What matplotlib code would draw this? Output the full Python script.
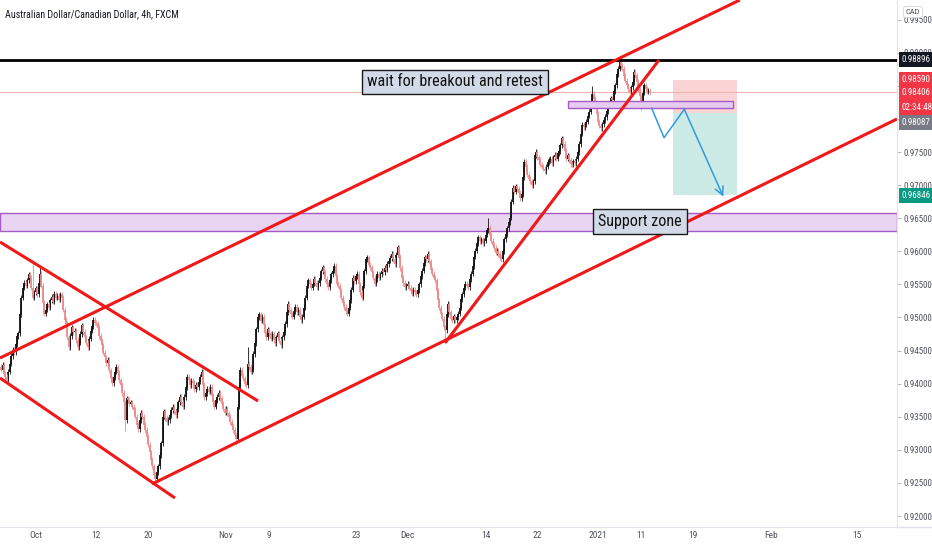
import numpy as np
import matplotlib.pyplot as plt
from matplotlib import font_manager
from matplotlib.patches import Rectangle

# narrow font if one is installed, else Liberation Sans at a smaller size
names = {f.name for f in font_manager.fontManager.ttflist}
narrow = next((n for n in ['Liberation Sans Narrow', 'Roboto Condensed', 'Noto Sans Condensed',
                           'DejaVu Sans Condensed', 'Open Sans Condensed'] if n in names), None)
if narrow is None:
    narrow = next((f.name for f in font_manager.fontManager.ttflist
                   if ('Condensed' in f.name or 'Narrow' in f.name) and f.style == 'normal'), None)
scale = 1.0 if narrow else 0.82
plt.rcParams['font.family'] = [narrow or 'Liberation Sans', 'DejaVu Sans']

# AUD/CAD 4h closes, in pips above 0.9000
closes_sep = [421, 428, 415, 410, 406, 418, 430, 442, 451, 448, 460, 472, 476, 505, 530, 545,
              552, 548, 556, 565, 560, 545, 530, 538]
closes_oct = [544, 535, 552, 566, 548, 522, 506, 512, 520, 515, 526, 531, 524, 536, 530, 533,
              527, 535, 530, 512, 496, 490, 470, 455, 472, 485, 478, 480, 466, 455, 462, 475,
              488, 478, 470, 462, 455, 468, 480, 487, 496, 492, 491, 484, 472, 465, 458, 447,
              440, 431, 436, 420, 408, 401, 410, 418, 425, 416, 405, 398, 386, 372, 345, 378,
              376, 370, 372, 365, 360, 350, 338, 331, 345, 356, 350, 338, 330, 320, 308, 296,
              285, 275, 262, 256, 266, 275, 292, 310, 350, 358, 348, 342, 345, 352, 360, 365,
              358, 352, 361, 372, 380, 372, 365, 380, 395, 410, 405, 398, 404, 401, 392, 398,
              395, 403, 410, 418, 398, 380, 386, 392, 388, 395, 382, 372, 365, 375, 380, 386,
              378, 370, 362, 356]
closes_nov = [362, 355, 350, 342, 336, 330, 322, 316, 365, 395, 421, 412, 408, 400, 398, 430,
              425, 418, 421, 445, 461, 482, 500, 505, 495, 501, 488, 476, 470, 482, 476, 468,
              475, 466, 461, 470, 476, 465, 458, 470, 478, 490, 508, 521, 512, 505, 501, 510,
              516, 508, 512, 501, 496, 501, 515, 530, 548, 556, 550, 545, 551, 558, 552, 546,
              552, 560, 570, 576, 568, 558, 550, 546, 556, 565, 571, 578, 562, 551, 548, 541,
              530, 522, 516, 510, 506, 515, 526, 542, 560, 555, 562, 566, 550, 538, 530, 548,
              570, 588, 591, 580, 576, 568, 560, 551, 558, 566, 560, 565, 571, 568, 575, 572,
              581, 586, 590, 596, 588, 581, 595, 606, 592, 575, 560, 552, 546, 548]
closes_dec = [551, 545, 540, 536, 542, 538, 535, 541, 550, 562, 571, 582, 591, 588, 596, 585,
              572, 566, 560, 556, 540, 526, 515, 505, 498, 485, 481, 505, 521, 508, 498, 496,
              502, 496, 500, 506, 515, 528, 535, 545, 551, 548, 546, 558, 566, 578, 592, 601,
              612, 621, 615, 618, 612, 616, 625, 632, 636, 625, 616, 610, 605, 598, 601, 596,
              590, 588, 600, 618, 626, 635, 644, 651, 675, 696, 690, 698, 694, 688, 680, 686,
              712, 735, 728, 716, 710, 706, 700, 706, 745, 750, 742, 738, 731, 728, 725, 721,
              728, 735, 738, 740, 733, 742, 746, 740, 748, 751, 760, 771, 762, 752, 740, 745,
              738, 732, 731, 736, 733, 740, 750, 762, 778, 791, 788, 792, 796, 805, 811, 825,
              838, 830, 821, 808]
closes_jan = [796, 790, 786, 792, 798, 803, 812, 821, 826, 831, 828, 842, 851, 868, 876, 886,
              880, 876, 865, 858, 851, 845, 841, 848, 856, 871, 866, 856, 845, 834, 826, 840,
              851, 846, 841, 843, 840.6]
first_open = 425
# long wicks that stand out (bar index, pips)
wick_highs = [(22, 582), (27, 575), (171, 455), (275, 610), (338, 651), (410, 850), (429, 895)]
wick_lows = [(86, 328), (107, 252), (163, 307), (308, 465), (444, 814)]

# time axis in trading days, Oct 1 = 0
start_day = -4.0
tick_days = [0, 7, 13, 22, 27, 37, 43, 52, 58, 65, 70, 76, 85, 95]
tick_labels = ['Oct', '12', '20', 'Nov', '9', '23', 'Dec', '14', '22', '2021', '11', '19', 'Feb', '15']
price_ticks = np.arange(0.920, 0.9951, 0.005)
hidden_ticks = [0.980, 0.985]   # sit under the price tags

# drawings, (day, price)
trend_lines = [
    ((-4.13, 0.94388), (81.4, 0.99798)),
    ((-4.13, 0.96141), (25.70, 0.93738)),
    ((-4.13, 0.94086), (16.10, 0.92272)),
    ((13.45, 0.92484), (99.57, 0.98000)),
    ((47.32, 0.94615), (72.06, 0.98892)),
]
resistance = 0.98896
support_zone = (0.96307, 0.96579)
retest_zone = (61.54, 80.61, 0.98166, 0.98272)
pos_left, pos_right = 73.68, 81.07
pos_stop, pos_entry, pos_target = 0.98590, 0.98087, 0.96846
path_days = [71.21, 72.64, 74.98, 79.49]
path_prices = [0.98162, 0.97717, 0.98147, 0.96826]

bull = '#111111'
bear = '#ee8a8a'

fig = plt.figure(figsize=(9.32, 5.5), dpi=100)
ax = fig.add_axes([0, 23 / 550, 897 / 932, 527 / 550])

closes = 0.9 + np.array(closes_sep + closes_oct + closes_nov + closes_dec + closes_jan) / 10000
opens = np.concatenate([[0.9 + first_open / 10000], closes[:-1]])
highs = np.maximum(opens, closes) + 0.0004
lows = np.minimum(opens, closes) - 0.0004
for j, v in wick_highs:
    highs[j] = 0.9 + v / 10000
for j, v in wick_lows:
    lows[j] = 0.9 + v / 10000
x = start_day + np.arange(len(closes)) / 6
up = closes >= opens
top = np.maximum(np.maximum(opens, closes), np.minimum(opens, closes) + 0.0001)
bot = np.minimum(opens, closes)

for mask, col in [(up, bull), (~up, bear)]:
    ax.vlines(x[mask], lows[mask], highs[mask], colors=col, lw=0.6, zorder=3)
    ax.vlines(x[mask], bot[mask], top[mask], colors=col, lw=1.3, zorder=3)

# zones
ax.axhspan(*support_zone, fc='#e9d4f1', ec='#a45bc6', lw=1, zorder=1)
ax.add_patch(Rectangle((retest_zone[0], retest_zone[2]), retest_zone[1] - retest_zone[0],
                       retest_zone[3] - retest_zone[2], fc='#e6cdf0', ec='#a45bc6', lw=1, zorder=4))

# short position box
ax.add_patch(Rectangle((pos_left, pos_entry), pos_right - pos_left, pos_stop - pos_entry,
                       fc='#fad3d5', ec='none', zorder=1))
ax.add_patch(Rectangle((pos_left, pos_target), pos_right - pos_left, pos_entry - pos_target,
                       fc='#cdebe6', ec='none', zorder=1))

# lines
ax.axhline(resistance, color='black', lw=2, zorder=5)
ax.axhline(closes[-1], color='#f5b3b3', lw=0.8, zorder=2)
for (x0, y0), (x1, y1) in trend_lines:
    ax.plot([x0, x1], [y0, y1], color='#f01818', lw=2.2, zorder=6, solid_capstyle='butt')

ax.plot(path_days[:3], path_prices[:3], color='#3399e0', lw=1.1, zorder=6)
ax.annotate('', xy=(path_days[3], path_prices[3]), xytext=(path_days[2], path_prices[2]),
            arrowprops=dict(arrowstyle='->,head_length=0.6,head_width=0.3', color='#3399e0',
                            lw=1.1, shrinkA=0, shrinkB=0), zorder=6)

box = dict(boxstyle='square,pad=0.3', fc='#d3dae7', ec='#1a1a1a', lw=1)
ax.text(48.5, 0.98559, 'wait for breakout and retest', ha='center', va='center',
        fontsize=11.6 * scale, color='#111111', bbox=box, zorder=7)
ax.text(69.86, 0.96451, 'Support zone', ha='center', va='center',
        fontsize=11.6 * scale, color='#111111', bbox=box, zorder=7)

# axes
ax.set_xlim(-4.13, 99.57)
ax.set_ylim(0.91834, 0.99798)
ax.set_xticks(tick_days)
ax.set_xticklabels(tick_labels)
ax.set_yticks(price_ticks)
ax.set_yticklabels(['' if np.isclose(p, hidden_ticks).any() else '{:.5f}'.format(p)
                    for p in price_ticks])
ax.yaxis.tick_right()
ax.tick_params(axis='y', length=3, color='#b8bbc4', labelsize=6.5 * scale, labelcolor='#50535e', pad=2)
ax.tick_params(axis='x', length=0, labelsize=6.8 * scale, labelcolor='#50535e', pad=3)
for s in ['top', 'left']:
    ax.spines[s].set_visible(False)
ax.spines['right'].set_color('#e0e3eb')
ax.spines['bottom'].set_color('#e0e3eb')
fig.add_artist(plt.Line2D([897 / 932, 1], [23 / 550, 23 / 550], color='#e0e3eb', lw=1))


def price_tag(price, text, color, dy=0):
    ax.annotate(text, xy=(1, price), xycoords=ax.get_yaxis_transform(),
                xytext=(3.5, dy), textcoords='offset points', ha='left', va='center',
                fontsize=6.5 * scale, color='white', annotation_clip=False, zorder=10,
                bbox=dict(boxstyle='square,pad=0.35', fc=color, ec='none'))


price_tag(resistance, '0.98896', '#131722')
price_tag(pos_stop, '0.98590', '#f23645')
price_tag(closes[-1], '{:.5f}'.format(closes[-1]), '#f23645')
price_tag(closes[-1], '02:34:48', '#f23645', dy=-11)
price_tag(pos_entry, '0.98087', '#787b86', dy=-6.5)
price_tag(pos_target, '0.96846', '#089981')

fig.text(913 / 932, 1 - 12 / 550, 'CAD', ha='center', va='center', fontsize=6 * scale, color='#50535e',
         bbox=dict(boxstyle='round,pad=0.3', fc='white', ec='#d1d4dc', lw=0.6))
fig.text(5 / 932, 1 - 14 / 550, 'Australian Dollar/Canadian Dollar, 4h, FXCM', ha='left',
         va='center', fontsize=7.2 * scale, color='#131722')

fig.savefig('out.png', dpi=100)
